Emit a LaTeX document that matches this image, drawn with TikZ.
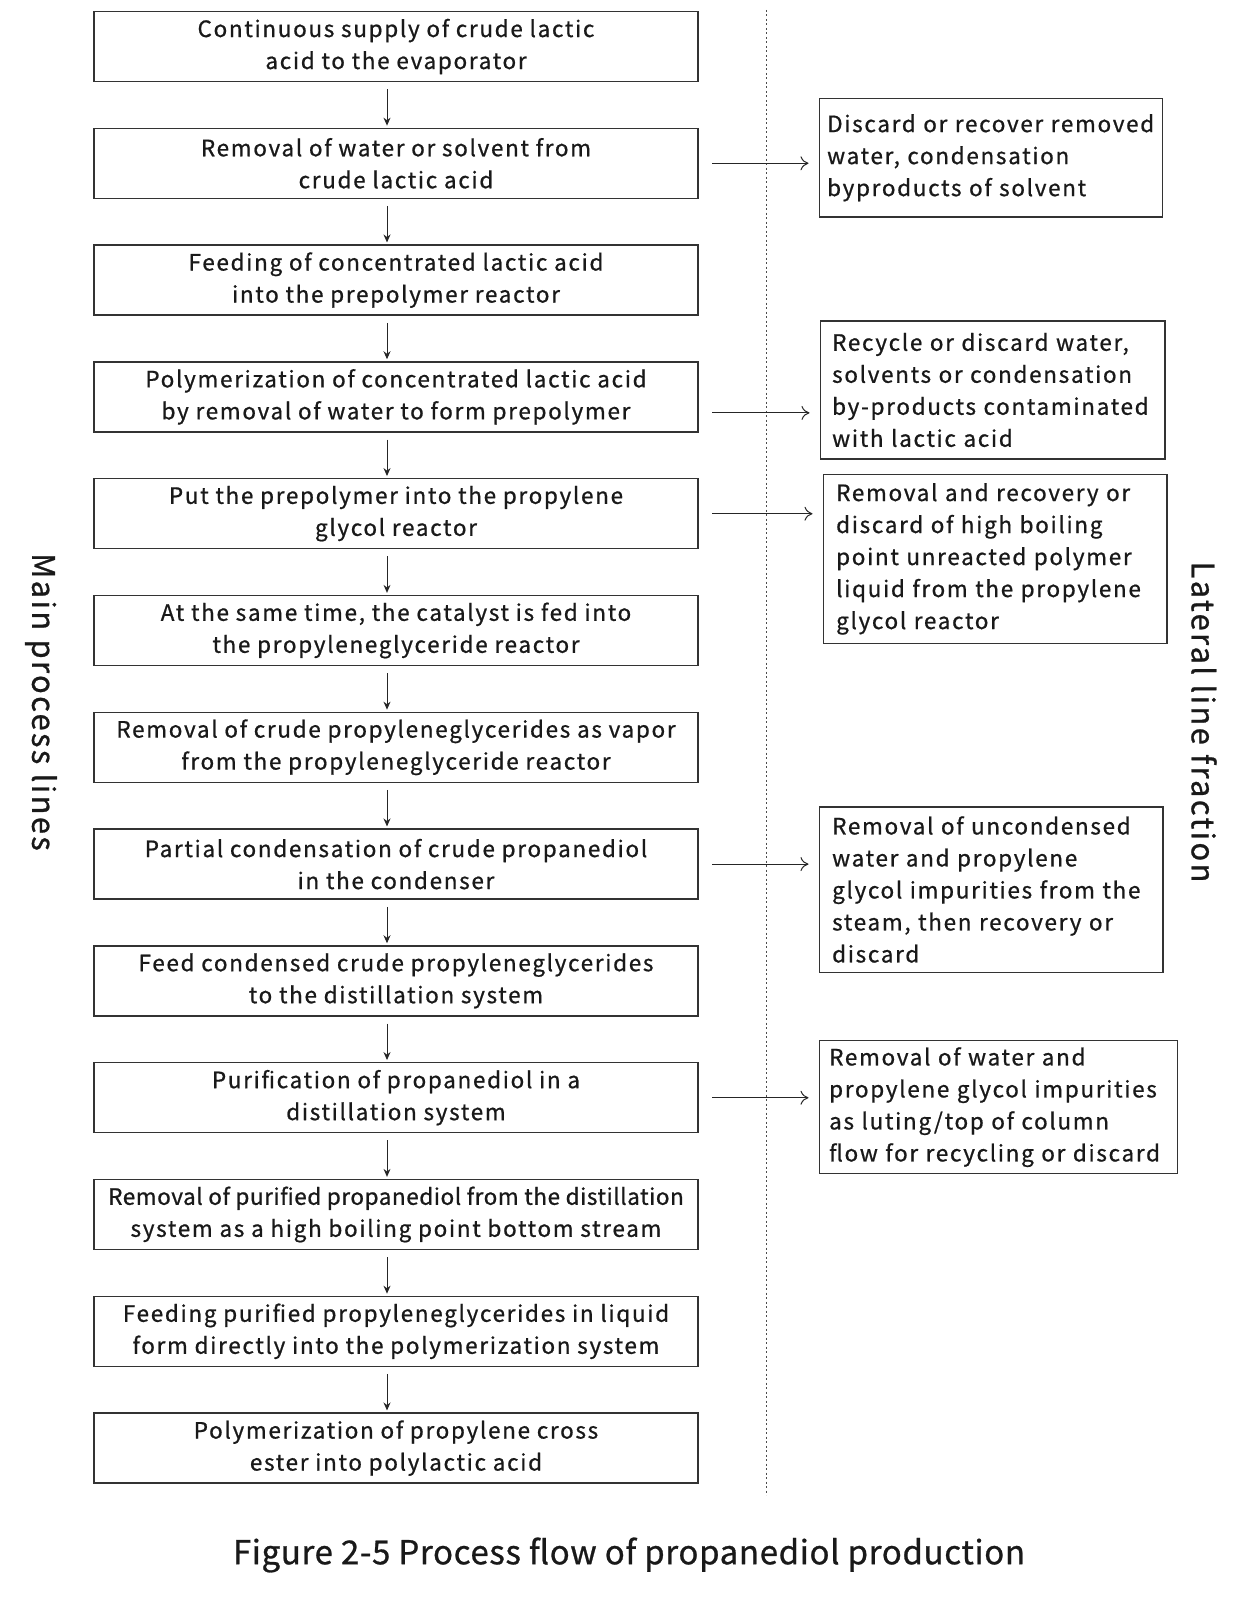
\documentclass[tikz,border=0pt]{standalone}
\usepackage{fontspec}
\setmainfont{Noto Sans CJK SC}[FakeBold=0.8,LetterSpace=7.5]
\newfontfamily\captionfont{Noto Sans CJK SC}[FakeBold=0.8,LetterSpace=2]
\usepackage{tikz}
\usetikzlibrary{arrows.meta}

\begin{document}
\begin{tikzpicture}[x=1pt,y=-1pt,
  mainbox/.style={draw=black!80,line width=1.3pt,minimum width=604,minimum height=70,
    align=center,font=\fontsize{22.5}{32}\selectfont,text=black!90,inner sep=0pt},
  sidebox/.style={draw=black!80,line width=1.3pt,anchor=north west,align=left,
    font=\fontsize{22.5}{32}\selectfont,text=black!90,inner ysep=0pt},
  downarrow/.style={-{Stealth[length=8,width=7]},line width=1pt,black!85,
    shorten <=7,shorten >=2},
  sidearrow/.style={-{To[length=8,width=14]},line width=1pt,black!85,
    shorten <=13.5,shorten >=10},
  sidelabel/.style={rotate=-90,font=\fontsize{31}{32}\selectfont,text=black!90}]
\useasboundingbox (0,0) rectangle (1233,1600);

% main process line
\foreach \Text [count=\i] in {
  {Continuous supply of crude lactic\\acid to the evaporator},
  {Removal of water or solvent from\\crude lactic acid},
  {Feeding of concentrated lactic acid\\into the prepolymer reactor},
  {Polymerization of concentrated lactic acid\\by removal of water to form prepolymer},
  {Put the prepolymer into the propylene\\glycol reactor},
  {At the same time, the catalyst is fed into\\the propyleneglyceride reactor},
  {Removal of crude propyleneglycerides as vapor\\from the propyleneglyceride reactor},
  {Partial condensation of crude propanediol\\in the condenser},
  {Feed condensed crude propyleneglycerides\\to the distillation system},
  {Purification of propanediol in a\\distillation system},
  {\addfontfeatures{LetterSpace=2.5}Removal of purified propanediol from the distillation\\system as a high boiling point bottom stream},
  {Feeding purified propyleneglycerides in liquid\\form directly into the polymerization system},
  {Polymerization of propylene cross\\ester into polylactic acid}}{
    \node[mainbox] (main\i) at (396,{46.5+(\i-1)*116.8}) {\Text};
}
\foreach \i [evaluate=\i as \j using int(\i+1)] in {1,...,12}{
    \draw[downarrow] ([xshift=-9]main\i.south) -- ([xshift=-9]main\j.north);
}

% dividing line
\draw[dashed,dash pattern=on 2pt off 2.5pt,line width=0.8pt,black!70] (766.5,10) -- (766.5,1495);

% lateral line boxes
\node[sidebox,minimum width=343.5,minimum height=118.3,text width=327.5,inner xsep=8]
  (side1) at (818.5,98) {Discard or recover removed\\water, condensation\\byproducts of solvent};
\node[sidebox,minimum width=344.9,minimum height=137.8,text width=320.9,inner xsep=12]
  (side2) at (819.5,320.4) {Recycle or discard water,\\solvents or condensation\\by-products contaminated\\with lactic acid};
\node[sidebox,minimum width=343.9,minimum height=169.5,text width=317.9,inner xsep=13]
  (side3) at (822.5,473.5) {Removal and recovery or\\discard of high boiling\\point unreacted polymer\\liquid from the propylene\\glycol reactor};
\node[sidebox,minimum width=343.8,minimum height=165.3,text width=317.8,inner xsep=13]
  (side4) at (818.5,806.2) {Removal of uncondensed\\water and propylene\\glycol impurities from the\\steam, then recovery or\\discard};
\node[sidebox,minimum width=358.5,minimum height=133,text width=338.5,inner xsep=10]
  (side5) at (818.5,1040) {Removal of water and\\propylene glycol impurities\\as luting/top of column\\flow for recycling or discard};

\draw[sidearrow] (main2.east) -- (main2.east -| side1.west);
\draw[sidearrow] ([yshift=-16]main4.east) -- ([yshift=-16]main4.east -| side2.west);
\draw[sidearrow] (main5.east) -- (main5.east -| side3.west);
\draw[sidearrow] (main8.east) -- (main8.east -| side4.west);
\draw[sidearrow] (main10.east) -- (main10.east -| side5.west);

% labels
\node[sidelabel] (mainlabel) at (41,702) {Main process lines};
\node[sidelabel] (laterallabel) at (1204,722) {Lateral line fraction};
\node[font=\captionfont\fontsize{33}{36}\selectfont,text=black!90] (caption) at (629,1555) {Figure 2-5 Process flow of propanediol production};
\end{tikzpicture}
\end{document}
